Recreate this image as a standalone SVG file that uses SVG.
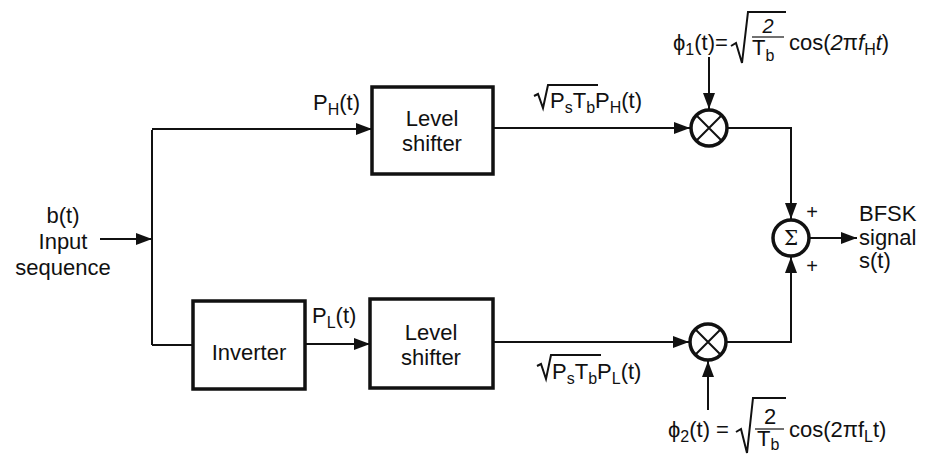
<svg xmlns="http://www.w3.org/2000/svg" width="926" height="455" viewBox="0 0 926 455">
<defs>
<marker id="ah" markerUnits="userSpaceOnUse" markerWidth="17" markerHeight="12" refX="16" refY="6" orient="auto">
<path d="M0,0 L16,6 L0,12 z" fill="#111"/>
</marker>
<style>
text{font-family:"Liberation Sans",Arial,sans-serif;fill:#111;font-size:22px}
.box{fill:#fff;stroke:#111;stroke-width:3.5}
.ln{fill:none;stroke:#111;stroke-width:2}
.arr{fill:none;stroke:#111;stroke-width:2;marker-end:url(#ah)}
.circ{fill:#fff;stroke:#111;stroke-width:3.5}
.c{text-anchor:middle}
.sub{font-size:16px}
</style>
</defs>
<rect width="926" height="455" fill="#fff"/>
<g id="connectors">
<path class="arr" d="M100,239 L152,239"/>
<path class="ln" d="M152,130 L152,345"/>
<path class="arr" d="M152,129 L372,129"/>
<path class="ln" d="M152,345 L193,345"/>
<path class="arr" d="M305,344 L370,344"/>
<path class="arr" d="M493,128 L690,128"/>
<path class="arr" d="M493,342 L689,342"/>
<path class="arr" d="M709,57 L709,109"/>
<path class="arr" d="M708,410 L708,361"/>
<path class="arr" d="M727,128 L791,128 L791,219"/>
<path class="arr" d="M726,342 L791,342 L791,257"/>
<path class="arr" d="M810,238 L857,238"/>
</g>
<g id="input">
<text class="c" x="63" y="223">b(t)</text>
<text class="c" x="63" y="249">Input</text>
<text class="c" x="63" y="275">sequence</text>
</g>
<g id="levelshifter1">
<rect class="box" x="372" y="87" width="121" height="87"/>
<text class="c" x="432" y="126">Level</text>
<text class="c" x="432" y="151">shifter</text>
</g>
<g id="inverter">
<rect class="box" x="193" y="301" width="112" height="88"/>
<text class="c" x="249" y="360">Inverter</text>
</g>
<g id="levelshifter2">
<rect class="box" x="370" y="299" width="123" height="89"/>
<text class="c" x="431" y="340">Level</text>
<text class="c" x="431" y="365">shifter</text>
</g>
<g id="mult1">
<circle class="circ" cx="709" cy="128" r="18"/>
<path class="ln" d="M696.3,115.3 L721.7,140.7 M721.7,115.3 L696.3,140.7"/>
</g>
<g id="mult2">
<circle class="circ" cx="708" cy="342" r="18"/>
<path class="ln" d="M695.3,329.3 L720.7,354.7 M720.7,329.3 L695.3,354.7"/>
</g>
<g id="sum">
<circle class="circ" cx="791" cy="238" r="18"/>
<text class="c" x="791" y="245" style="font-size:20px;font-family:'DejaVu Serif',serif">Σ</text>
<text class="c" x="812" y="219" style="font-size:20px">+</text>
<text class="c" x="812" y="273" style="font-size:20px">+</text>
</g>
<g id="output">
<text x="859" y="221">BFSK</text>
<text x="859" y="245">signal</text>
<text x="859" y="268">s(t)</text>
</g>
<g id="labels">
<text x="313" y="110">P<tspan class="sub" dy="5">H</tspan><tspan dy="-5">(t)</tspan></text>
<text x="312" y="323">P<tspan class="sub" dy="5">L</tspan><tspan dy="-5">(t)</tspan></text>
<path class="ln" d="M534,96 L538,94 L543,108 L548,85 L598,85"/>
<text x="550" y="108">P<tspan class="sub" dy="5">s</tspan><tspan dy="-5">T</tspan><tspan class="sub" dy="5">b</tspan><tspan dy="-5">P</tspan><tspan class="sub" dy="5">H</tspan><tspan dy="-5">(t)</tspan></text>
<path class="ln" d="M537,366 L541,364 L546,379 L551,355 L601,355"/>
<text x="552" y="379">P<tspan class="sub" dy="5">s</tspan><tspan dy="-5">T</tspan><tspan class="sub" dy="5">b</tspan><tspan dy="-5">P</tspan><tspan class="sub" dy="5">L</tspan><tspan dy="-5">(t)</tspan></text>
</g>
<g id="phi1">
<text x="673" y="50">ϕ<tspan class="sub" dy="5">1</tspan><tspan dy="-5">(t)=</tspan></text>
<path class="ln" d="M731,46 L736,43 L742,63 L748,12 L786,12"/>
<text class="c" x="768" y="33" style="font-style:italic;font-size:20px">2</text>
<path class="ln" style="stroke-width:1.2" d="M752,37 L784,37"/>
<text x="752" y="55">T<tspan class="sub" dy="6">b</tspan></text>
<text x="789" y="50">cos(<tspan style="font-style:italic">2</tspan>π<tspan style="font-style:italic">f</tspan><tspan class="sub" dy="5">H</tspan><tspan dy="-5" style="font-style:italic">t</tspan>)</text>
</g>
<g id="phi2">
<text x="668" y="437">ϕ<tspan class="sub" dy="5">2</tspan><tspan dy="-5">(t) =</tspan></text>
<path class="ln" d="M736,432 L741,429 L747,453 L753,398 L786,398"/>
<text class="c" x="770" y="424">2</text>
<path class="ln" style="stroke-width:1.2" d="M755,429 L784,429"/>
<text x="757" y="446">T<tspan class="sub" dy="4">b</tspan></text>
<text x="789" y="437">cos(2πf<tspan class="sub" dy="5">L</tspan><tspan dy="-5">t)</tspan></text>
</g>
</svg>
